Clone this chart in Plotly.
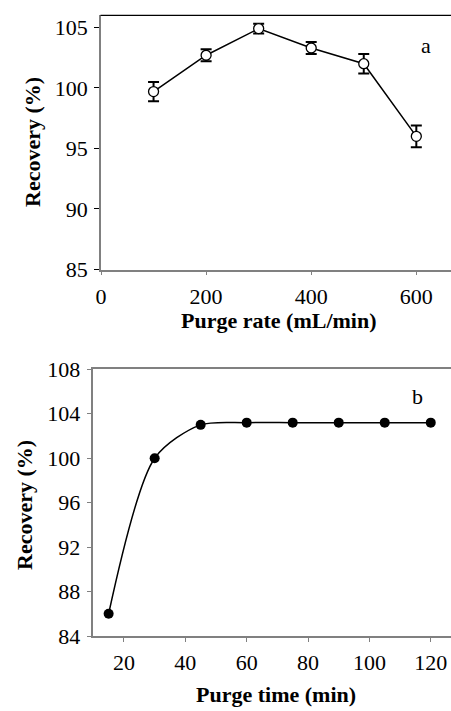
import plotly.graph_objects as go

# Panel a data
rate = [100, 200, 300, 400, 500, 600]
rate_recovery = [99.7, 102.7, 104.9, 103.3, 102.0, 96.0]
rate_err = [0.8, 0.5, 0.4, 0.5, 0.8, 0.9]

# Panel b data
ptime = [15, 30, 45, 60, 75, 90, 105, 120]
time_recovery = [86.0, 100.0, 103.0, 103.2, 103.2, 103.2, 103.2, 103.2]

W, H = 451, 711
FONT = "Liberation Serif, Times New Roman, serif"

def px_x(p):
    return p / W

def px_y(p):
    return (H - p) / H

fig = go.Figure()

fig.add_trace(go.Scatter(
    x=rate, y=rate_recovery, mode="lines+markers",
    line=dict(color="black", width=1.5),
    marker=dict(symbol="circle", size=10, color="white", line=dict(color="black", width=1.3)),
    error_y=dict(type="data", array=rate_err, visible=True, color="black", thickness=2, width=5.5),
    xaxis="x", yaxis="y", showlegend=False, cliponaxis=False,
))

fig.add_trace(go.Scatter(
    x=ptime, y=time_recovery, mode="lines+markers",
    line=dict(color="black", width=1.5, shape="spline", smoothing=0.8),
    marker=dict(symbol="circle", size=10, color="black"),
    xaxis="x2", yaxis="y2", showlegend=False, cliponaxis=False,
))

tickfont = dict(family=FONT, size=22, color="black")
axcol = "#808080"
common = dict(showgrid=False, zeroline=False, tickfont=tickfont, automargin=False,
              showline=True, linecolor=axcol, linewidth=1.5, ticks="outside")

fig.update_layout(
    template="none",
    width=W, height=H,
    margin=dict(l=0, r=0, t=0, b=0, pad=0),
    paper_bgcolor="white", plot_bgcolor="white",
    font=dict(family=FONT, color="black"),
    xaxis=dict(domain=[px_x(101), 1], range=[0, 666], tickvals=[0, 200, 400, 600],
               ticklen=4, tickcolor=axcol, anchor="y", ticklabelstandoff=2, **common),
    yaxis=dict(domain=[px_y(269.5), px_y(15.3)], range=[85, 106], tickvals=[85, 90, 95, 100, 105],
               ticklen=5, tickcolor="black", anchor="x", ticklabelstandoff=2, **common),
    xaxis2=dict(domain=[px_x(93.3), 1], range=[10, 126.6], tickvals=[20, 40, 60, 80, 100, 120],
                ticklen=4, tickcolor=axcol, anchor="y2", mirror=True, ticklabelstandoff=2, **common),
    yaxis2=dict(domain=[px_y(636), px_y(369.3)], range=[84, 108], tickvals=[84, 88, 92, 96, 100, 104, 108],
                ticklen=5, tickcolor=axcol, anchor="x2", ticklabelstandoff=2, **common),
)

# black top border of panel a
fig.add_shape(type="line", xref="paper", yref="paper",
              x0=px_x(100.5), x1=1, y0=px_y(15.3), y1=px_y(15.3),
              line=dict(color="black", width=1.2))

titlefont = dict(family=FONT, size=22, color="black")
ann = [
    dict(text="<b>Recovery (%)</b>", x=px_x(33), y=px_y(142), textangle=-90, font=titlefont),
    dict(text="<b>Purge rate (mL/min)</b>", x=px_x(279), y=px_y(320), font=titlefont),
    dict(text="<b>Recovery (%)</b>", x=px_x(24), y=px_y(505), textangle=-90, font=titlefont),
    dict(text="<b>Purge time (min)</b>", x=px_x(276), y=px_y(694), font=titlefont),
    dict(text="a", x=px_x(426), y=px_y(45), font=dict(family=FONT, size=22, color="black")),
    dict(text="b", x=px_x(417), y=px_y(396), font=dict(family=FONT, size=22, color="black")),
]
for a in ann:
    a.update(xref="paper", yref="paper", showarrow=False, xanchor="center", yanchor="middle")
    fig.add_annotation(**a)

fig.write_html("out.html", config={"displayModeBar": False},
               post_script="document.body.style.margin='0';")
